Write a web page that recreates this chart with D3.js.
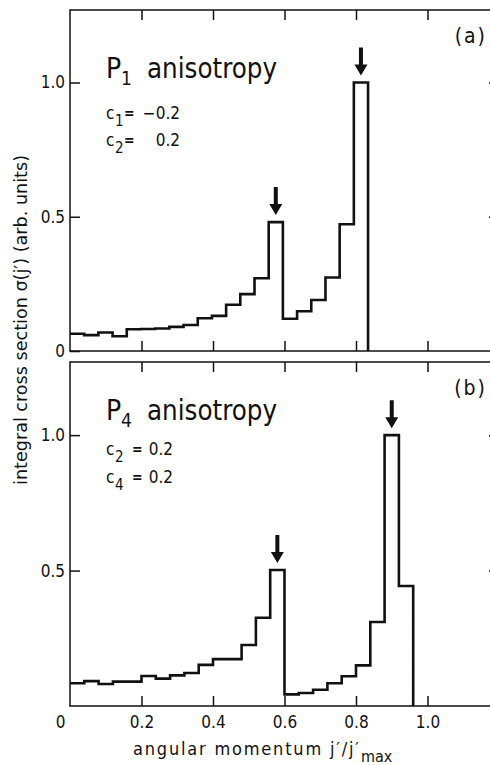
<!DOCTYPE html>
<html>
<head>
<meta charset="utf-8">
<script src="https://cdn.jsdelivr.net/npm/d3@7"></script>
<style>
  body { margin: 0; background: #fff; }
  svg text { font-family: 'DejaVu Sans Condensed', 'Liberation Sans Narrow', 'DejaVu Sans', sans-serif; fill: #111; }
</style>
</head>
<body>
<div id="chart"></div>
<script>
// bin widths (j'/j'max units)
const binWidthA = 0.0397;
const binWidthB = 0.04;

// integral cross section per bin, panel (a) P1 anisotropy
const valuesA = [0.064, 0.059, 0.069, 0.055, 0.081, 0.082, 0.084, 0.090, 0.097, 0.122,
                 0.131, 0.172, 0.212, 0.271, 0.480, 0.120, 0.148, 0.190, 0.274, 0.472, 1.0];
// panel (b) P4 anisotropy
const valuesB = [0.084, 0.092, 0.081, 0.090, 0.090, 0.111, 0.101, 0.113, 0.122, 0.152,
                 0.173, 0.173, 0.225, 0.326, 0.502, 0.043, 0.048, 0.060, 0.084, 0.110,
                 0.150, 0.310, 1.0, 0.443];

// bins marked with arrows
const peaksA = [14, 20];
const peaksB = [14, 22];

// anisotropy coefficients
const coefNamesA = ['1', '2'];
const coefValuesA = [-0.2, 0.2];
const coefNamesB = ['2', '4'];
const coefValuesB = [0.2, 0.2];

const xTicks = [0.2, 0.4, 0.6, 0.8, 1.0];
const xLabelTicks = [0, 0.2, 0.4, 0.6, 0.8, 1.0];
const yTicksA = [0, 0.5, 1.0];
const yTicksB = [0.5, 1.0];
const xMax = 1.2, yMax = 1.27;

const width = 490, height = 765;
const ink = '#111';

const svg = d3.select('#chart').append('svg')
    .attr('width', width)
    .attr('height', height);

const x = d3.scaleLinear().domain([0, xMax]).range([70, 499]);
const fmt = d => d === 0 ? '0' : d3.format('.1f')(d);

const panels = [
    { values: valuesA, bin: binWidthA, peaks: peaksA, yTicks: yTicksA, top: 10, bottom: 351,
      tag: '(a)', pSub: '1', titleY: 78, coefNames: coefNamesA, coefValues: coefValuesA,
      coefY: [119, 146], eqX: 124, valX: 180, xLabels: false },
    { values: valuesB, bin: binWidthB, peaks: peaksB, yTicks: yTicksB, top: 362, bottom: 706,
      tag: '(b)', pSub: '4', titleY: 420, coefNames: coefNamesB, coefValues: coefValuesB,
      coefY: [455, 483], eqX: 132, valX: 173, xLabels: true }
];

panels.forEach(p => {
    const g = svg.append('g');
    const y = d3.scaleLinear().domain([0, yMax]).range([p.bottom, p.top]);

    // frame
    g.append('rect')
        .attr('x', x(0)).attr('y', p.top)
        .attr('width', x(xMax) - x(0)).attr('height', p.bottom - p.top)
        .attr('fill', 'none').attr('stroke', ink).attr('stroke-width', 1.5);

    // axes with inward ticks
    const left = g.append('g')
        .attr('transform', `translate(${x(0)},0)`)
        .call(d3.axisLeft(y).tickValues(p.yTicks).tickSizeInner(-10).tickSizeOuter(0)
            .tickPadding(5).tickFormat(fmt));
    const right = g.append('g')
        .attr('transform', `translate(${x(xMax)},0)`)
        .call(d3.axisRight(y).tickValues([0.5, 1.0]).tickSizeInner(-10).tickSizeOuter(0)
            .tickFormat(''));
    const topAx = g.append('g')
        .attr('transform', `translate(0,${p.top})`)
        .call(d3.axisTop(x).tickValues(xTicks).tickSizeInner(-10).tickSizeOuter(0)
            .tickFormat(''));
    const bottom = g.append('g')
        .attr('transform', `translate(0,${p.bottom})`)
        .call(d3.axisBottom(x).tickValues(p.xLabels ? xLabelTicks : xTicks)
            .tickSizeInner(-10).tickSizeOuter(0).tickPadding(10)
            .tickFormat(p.xLabels ? fmt : ''));

    [left, right, topAx, bottom].forEach(a => {
        a.select('.domain').remove();
        a.selectAll('line').attr('stroke', ink).attr('stroke-width', 1.5);
        a.selectAll('text').attr('font-size', 17).attr('fill', ink);
    });
    bottom.selectAll('.tick').filter(d => d === 0).select('line').remove();
    bottom.selectAll('.tick').filter(d => d === 0).select('text').attr('dx', -10);

    // histogram as a step line
    const n = p.values.length;
    const pts = p.values.map((v, i) => [i * p.bin, v]);
    pts.push([n * p.bin, p.values[n - 1]]);
    pts.push([n * p.bin, 0]);
    g.append('path')
        .datum(pts)
        .attr('fill', 'none')
        .attr('stroke', ink)
        .attr('stroke-width', 2.6)
        .attr('stroke-linejoin', 'miter')
        .attr('d', d3.line().x(d => x(d[0])).y(d => y(d[1])).curve(d3.curveStepAfter));

    // arrows above the peaks
    p.peaks.forEach(i => {
        const cx = x((i + 0.5) * p.bin);
        const tip = y(p.values[i]) - 7;
        g.append('path')
            .attr('fill', ink)
            .attr('d', `M${cx - 2},${tip - 28} L${cx + 2},${tip - 28} L${cx + 2},${tip - 11}
                        L${cx + 6.5},${tip - 11} L${cx},${tip} L${cx - 6.5},${tip - 11}
                        L${cx - 2},${tip - 11} Z`);
    });

    // panel tag
    g.append('text')
        .attr('x', 487).attr('y', p.top + 33)
        .attr('text-anchor', 'end')
        .attr('font-size', 21)
        .attr('letter-spacing', 2)
        .text(p.tag);

    // title P_n anisotropy
    const t = g.append('text').attr('y', p.titleY).attr('font-size', 28);
    t.append('tspan').attr('x', 106).text('P');
    t.append('tspan').attr('x', 121).attr('dy', 7).attr('font-size', 19).text(p.pSub);
    t.append('tspan').attr('x', 147).attr('dy', -7).attr('textLength', 130)
        .attr('lengthAdjust', 'spacingAndGlyphs').text('anisotropy');

    // coefficients
    p.coefNames.forEach((c, k) => {
        const yy = p.coefY[k];
        const ct = g.append('text').attr('y', yy).attr('font-size', 17);
        ct.append('tspan').attr('x', 106).text('c');
        ct.append('tspan').attr('x', 115).attr('dy', 7).attr('font-size', 15).text(c);
        g.append('text').attr('x', p.eqX).attr('y', yy - 1).attr('font-size', 14)
            .attr('font-weight', 'bold').text('=');
        g.append('text').attr('x', p.valX).attr('y', yy).attr('font-size', 17)
            .attr('text-anchor', 'end')
            .text(p.coefValues[k] < 0 ? '−' + Math.abs(p.coefValues[k]).toFixed(1)
                                      : p.coefValues[k].toFixed(1));
    });
});

// axis titles
svg.append('text')
    .attr('transform', 'translate(27,320) rotate(-90)')
    .attr('text-anchor', 'middle')
    .attr('font-size', 17)
    .attr('textLength', 330)
    .attr('lengthAdjust', 'spacingAndGlyphs')
    .text('integral cross section σ(j′) (arb. units)');

const xt = svg.append('text').attr('y', 755).attr('font-size', 18);
xt.append('tspan').attr('x', 133).attr('textLength', 226).attr('lengthAdjust', 'spacing')
    .text('angular momentum  j′/j′');
xt.append('tspan').attr('x', 361).attr('dy', 7).attr('font-size', 16).text('max');
</script>
</body>
</html>
